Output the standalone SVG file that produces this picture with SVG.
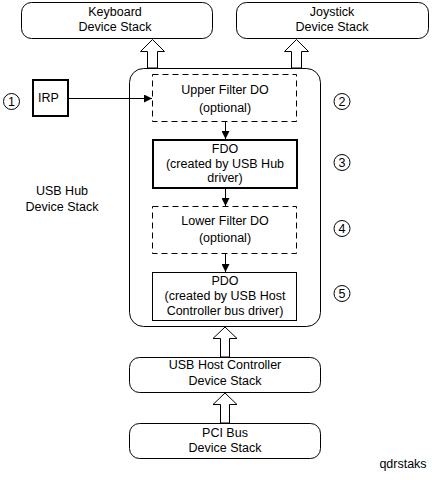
<svg xmlns="http://www.w3.org/2000/svg" width="432" height="480" viewBox="0 0 432 480">
<style>
text{font-family:"Liberation Sans",Arial,sans-serif;font-size:12.5px;fill:#000;text-anchor:middle}
.stack{fill:#fff;stroke:#000;stroke-width:1}
.dash{fill:#fff;stroke:#000;stroke-width:1;stroke-dasharray:6,4}
.thin{fill:#fff;stroke:#000;stroke-width:1}
.thick{fill:#fff;stroke:#000;stroke-width:2}
.blk{fill:#fff;stroke:#000;stroke-width:1}
.num{fill:#fff;stroke:#000;stroke-width:1}
.conn{stroke:#000;stroke-width:1;fill:none}
</style>
<defs>
<marker id="ah" viewBox="0 0 8 8" refX="8" refY="4" markerWidth="8" markerHeight="8" markerUnits="userSpaceOnUse" orient="auto">
<path d="M0,0 L8,4 L0,8 Z" fill="#000"/>
</marker>
</defs>
<rect width="432" height="480" fill="#fff"/>

<g id="keyboard">
<rect class="stack" x="21.5" y="2.5" width="191" height="36" rx="10"/>
<text x="115" y="16">Keyboard</text>
<text x="115" y="31">Device Stack</text>
</g>
<g id="joystick">
<rect class="stack" x="236.5" y="2.5" width="192" height="36" rx="10"/>
<text x="332" y="16">Joystick</text>
<text x="332" y="31">Device Stack</text>
</g>

<g id="usbhub">
<rect class="stack" x="129.5" y="68.5" width="191" height="258" rx="14"/>
<text x="62" y="195">USB Hub</text>
<text x="62" y="211">Device Stack</text>
</g>

<g id="irp">
<rect class="thick" x="33" y="80" width="35" height="36"/>
<text x="48.5" y="102">IRP</text>
</g>

<g id="upperfilter">
<rect class="dash" x="152.5" y="74.5" width="144" height="47"/>
<text x="225" y="94">Upper Filter DO</text>
<text x="225" y="112">(optional)</text>
</g>
<g id="fdo">
<rect class="thick" x="153" y="140" width="144" height="48"/>
<text x="225" y="153">FDO</text>
<text x="225" y="168">(created by USB Hub</text>
<text x="225" y="182">driver)</text>
</g>
<g id="lowerfilter">
<rect class="dash" x="152.5" y="206.5" width="144" height="47"/>
<text x="225" y="225">Lower Filter DO</text>
<text x="225" y="242">(optional)</text>
</g>
<g id="pdo">
<rect class="thin" x="152.5" y="272.5" width="144" height="48"/>
<text x="225" y="285">PDO</text>
<text x="225" y="300">(created by USB Host</text>
<text x="225" y="315">Controller bus driver)</text>
</g>

<g id="hostcontroller">
<rect class="stack" x="129.5" y="357.5" width="191" height="35" rx="10"/>
<text x="225" y="369">USB Host Controller</text>
<text x="225" y="385">Device Stack</text>
</g>
<g id="pcibus">
<rect class="stack" x="129.5" y="423.5" width="191" height="35" rx="10"/>
<text x="225" y="437">PCI Bus</text>
<text x="225" y="452">Device Stack</text>
</g>

<g id="numbers">
<circle class="num" cx="11.5" cy="101.5" r="8"/>
<text x="11.5" y="106">1</text>
<circle class="num" cx="342" cy="101.5" r="8"/>
<text x="342" y="106">2</text>
<circle class="num" cx="342" cy="162.5" r="8"/>
<text x="342" y="167">3</text>
<circle class="num" cx="342" cy="228.5" r="8"/>
<text x="342" y="233">4</text>
<circle class="num" cx="342" cy="293.5" r="8"/>
<text x="342" y="298">5</text>
</g>

<g id="connectors">
<line class="conn" x1="68" y1="98.5" x2="152" y2="98.5" marker-end="url(#ah)"/>
<line class="conn" x1="225.5" y1="122" x2="225.5" y2="139" marker-end="url(#ah)"/>
<line class="conn" x1="225.5" y1="189" x2="225.5" y2="206" marker-end="url(#ah)"/>
<line class="conn" x1="225.5" y1="254" x2="225.5" y2="272" marker-end="url(#ah)"/>
<path class="blk" d="M152.5,39.5 L164.5,51.5 L157.5,51.5 L157.5,68 L147.5,68 L147.5,51.5 L140.5,51.5 Z"/>
<path class="blk" d="M296.5,39.5 L308.5,51.5 L301.5,51.5 L301.5,68 L291.5,68 L291.5,51.5 L284.5,51.5 Z"/>
<path class="blk" d="M225,327 L237,338.5 L229.5,338.5 L229.5,357 L220.5,357 L220.5,338.5 L213,338.5 Z"/>
<path class="blk" d="M225,393 L237,404.5 L229.5,404.5 L229.5,423 L220.5,423 L220.5,404.5 L213,404.5 Z"/>
</g>

<text x="403" y="468">qdrstaks</text>
</svg>
